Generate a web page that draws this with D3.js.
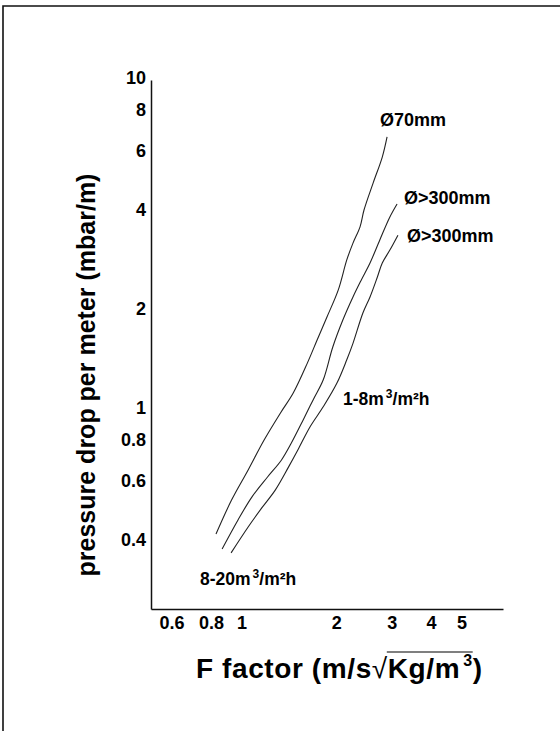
<!DOCTYPE html>
<html><head><meta charset="utf-8">
<script src="https://cdn.jsdelivr.net/npm/d3@7"></script>
<style>
body{margin:0;background:#fff}
svg{display:block}
text{font-family:Arial,"Liberation Sans",sans-serif;font-weight:bold;fill:#000}
</style>
</head><body><svg width="560" height="731"></svg>
<script>
// ---- data ----
const xTicks = [0.6, 0.8, 1, 2, 3, 4, 5];
const yTicks = [0.4, 0.6, 0.8, 1, 2, 4, 6, 8, 10];

const phi70F = [0.83,0.93,1.05,1.18,1.33,1.46,1.62,1.74,1.87,2.03,2.16,2.26,2.38,2.45,2.62,2.80,2.90];
const phi70P = [0.415,0.526,0.649,0.80,0.966,1.11,1.37,1.61,1.89,2.28,2.81,3.16,3.54,3.98,4.81,5.76,6.63];

const phi300aF = [0.868,0.975,1.08,1.21,1.34,1.44,1.57,1.69,1.82,1.95,2.10,2.26,2.40,2.56,2.75,2.96,3.12];
const phi300aP = [0.374,0.458,0.538,0.618,0.696,0.783,0.92,1.06,1.22,1.53,1.85,2.17,2.44,2.75,3.23,3.79,4.15];

const phi300bF = [0.927,1.05,1.16,1.28,1.41,1.51,1.65,1.82,2.01,2.16,2.26,2.43,2.56,2.70,2.80,2.96,3.14];
const phi300bP = [0.364,0.436,0.498,0.564,0.662,0.746,0.876,1.01,1.19,1.40,1.57,1.94,2.17,2.49,2.75,3.01,3.34];

const seriesLabels = ["Ø70mm", "Ø>300mm", "Ø>300mm"];
const loadLow = ["1-8m", "3", "/m²h"];
const loadHigh = ["8-20m", "3", "/m²h"];
const yTitle = "pressure drop per meter (mbar/m)";

// ---- layout ----
const svg = d3.select("svg");
const x0 = 151, x1 = 503, yTop = 80, yBot = 609;

// frame
svg.append("path").attr("d","M3,731V6H560").attr("fill","none").attr("stroke","#111").attr("stroke-width",1.6);

const x = d3.scaleLog().domain([0.516, 6.77]).range([x0, x1]);
const y = d3.scaleLog().domain([0.246, 9.86]).range([yBot, yTop]);

const xAxis = svg.append("g").attr("transform",`translate(0,${yBot})`)
  .call(d3.axisBottom(x).tickValues(xTicks).tickFormat(d3.format("")).tickSizeInner(0).tickSizeOuter(0).tickPadding(7));
const yAxis = svg.append("g").attr("transform",`translate(${x0},0)`)
  .call(d3.axisLeft(y).tickValues(yTicks).tickFormat(d3.format("")).tickSizeInner(0).tickSizeOuter(0).tickPadding(5));
[xAxis, yAxis].forEach(g => {
  g.attr("font-family", null).attr("font-size", null);
  g.select(".domain").attr("stroke","#111").attr("stroke-width",1.5);
  g.selectAll("text").style("font-size","18px").attr("fill","#000");
});

// curves
const line = d3.line().x(d => x(d[0])).y(d => y(d[1])).curve(d3.curveCatmullRom);
const series = [
  [phi70F, phi70P],
  [phi300aF, phi300aP],
  [phi300bF, phi300bP]
];
series.forEach(([F, P]) => {
  svg.append("path").datum(F.map((f, i) => [f, P[i]]))
    .attr("d", line).attr("fill","none").attr("stroke","#222").attr("stroke-width",1.1);
});

// series labels
const labelPos = [[380,126],[404,204],[407,242]];
seriesLabels.forEach((t, i) => {
  svg.append("text").attr("x", labelPos[i][0]).attr("y", labelPos[i][1]).style("font-size","18px").text(t);
});

function loadLabel(parts, px, py) {
  const t = svg.append("text").attr("x", px).attr("y", py).style("font-size","17.5px");
  t.append("tspan").text(parts[0]);
  t.append("tspan").style("font-size","12px").attr("dx",2).attr("dy",-7).text(parts[1]);
  t.append("tspan").attr("dy",7).text(parts[2]);
}
loadLabel(loadLow, 343, 405);
loadLabel(loadHigh, 200, 585);

// y title
svg.append("text").attr("transform","translate(95,375) rotate(-90)")
  .attr("text-anchor","middle").style("font-size","25px").text(yTitle);

// x title
const xt = svg.append("text").attr("x",196).attr("y",678).style("font-size","28px").attr("letter-spacing",0.6);
xt.append("tspan").text("F factor (m/s");
xt.append("tspan").style("font-weight","normal").text("√");
xt.append("tspan").text("Kg/m");
xt.append("tspan").style("font-size","16px").attr("dx",3).attr("dy",-12).text("3");
xt.append("tspan").attr("dy",12).text(")");
const n = xt.node();
const sx = n.getEndPositionOfChar(13).x;
const ex = n.getStartPositionOfChar(19).x;
svg.append("line").attr("x1", sx - 1).attr("x2", ex).attr("y1", 652).attr("y2", 652)
  .attr("stroke","#000").attr("stroke-width",1.2);
</script>
</body></html>
